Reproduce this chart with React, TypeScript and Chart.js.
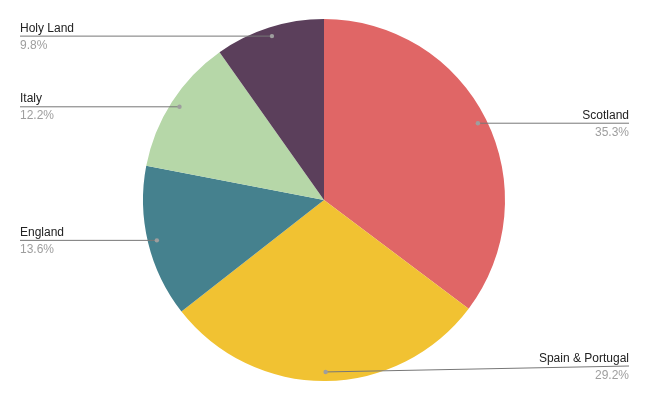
import React, { useEffect, useRef } from "react";
import { Chart, registerables } from "chart.js";

Chart.register(...registerables);

const categories = ["Scotland", "Spain & Portugal", "England", "Italy", "Holy Land"];
const values = [35.3, 29.2, 13.6, 12.2, 9.8];
const colors = ["#e06666", "#f1c232", "#45818e", "#b6d7a8", "#5b3f5b"];

const W = 649;
const H = 402;

const labelPlugin = {
  id: "leaderLabels",
  afterDraw(chart: any) {
    const ctx = chart.ctx;
    const meta = chart.getDatasetMeta(0);
    const total = values.reduce((a, b) => a + b, 0);
    meta.data.forEach((arc: any, i: number) => {
      const { x, y, startAngle, endAngle, outerRadius } = arc.getProps(
        ["x", "y", "startAngle", "endAngle", "outerRadius"],
        true
      );
      const mid = (startAngle + endAngle) / 2;
      const r = outerRadius * 0.95;
      const dx = x + Math.cos(mid) * r;
      const dy = y + Math.sin(mid) * r;
      const right = dx >= x;
      let ly = dy;
      if (ly > H - 36) ly = H - 36;
      if (ly < 30) ly = 30;
      const ex = right ? W - 20 : 20;
      ctx.save();
      ctx.strokeStyle = "#777777";
      ctx.lineWidth = 1;
      ctx.beginPath();
      ctx.moveTo(dx, dy);
      ctx.lineTo(ex, ly);
      ctx.stroke();
      ctx.fillStyle = "#9e9e9e";
      ctx.beginPath();
      ctx.arc(dx, dy, 2.2, 0, Math.PI * 2);
      ctx.fill();
      ctx.font = "12px 'Liberation Sans', Arial, sans-serif";
      ctx.textAlign = right ? "right" : "left";
      ctx.textBaseline = "alphabetic";
      ctx.fillStyle = "#222222";
      ctx.fillText(categories[i], ex, ly - 4.5);
      ctx.fillStyle = "#9e9e9e";
      const pct = ((values[i] / total) * 100).toFixed(1) + "%";
      ctx.fillText(pct, ex, ly + 12.5);
      ctx.restore();
    });
  },
};

export default function App() {
  const ref = useRef<HTMLCanvasElement>(null);
  useEffect(() => {
    const chart = new Chart(ref.current!, {
      type: "pie",
      data: {
        labels: categories,
        datasets: [
          {
            data: values,
            backgroundColor: colors,
            borderWidth: 0,
          },
        ],
      },
      options: {
        responsive: false,
        animation: false,
        layout: { padding: { left: 143, right: 144, top: 19, bottom: 21 } },
        plugins: {
          legend: { display: false },
          tooltip: { enabled: false },
        },
      },
      plugins: [labelPlugin],
    });
    return () => chart.destroy();
  }, []);
  return (
    <div style={{ position: "fixed", left: 0, top: 0, width: W, height: H, background: "#fff" }}>
      <canvas ref={ref} width={W} height={H} style={{ width: W, height: H }} />
    </div>
  );
}
